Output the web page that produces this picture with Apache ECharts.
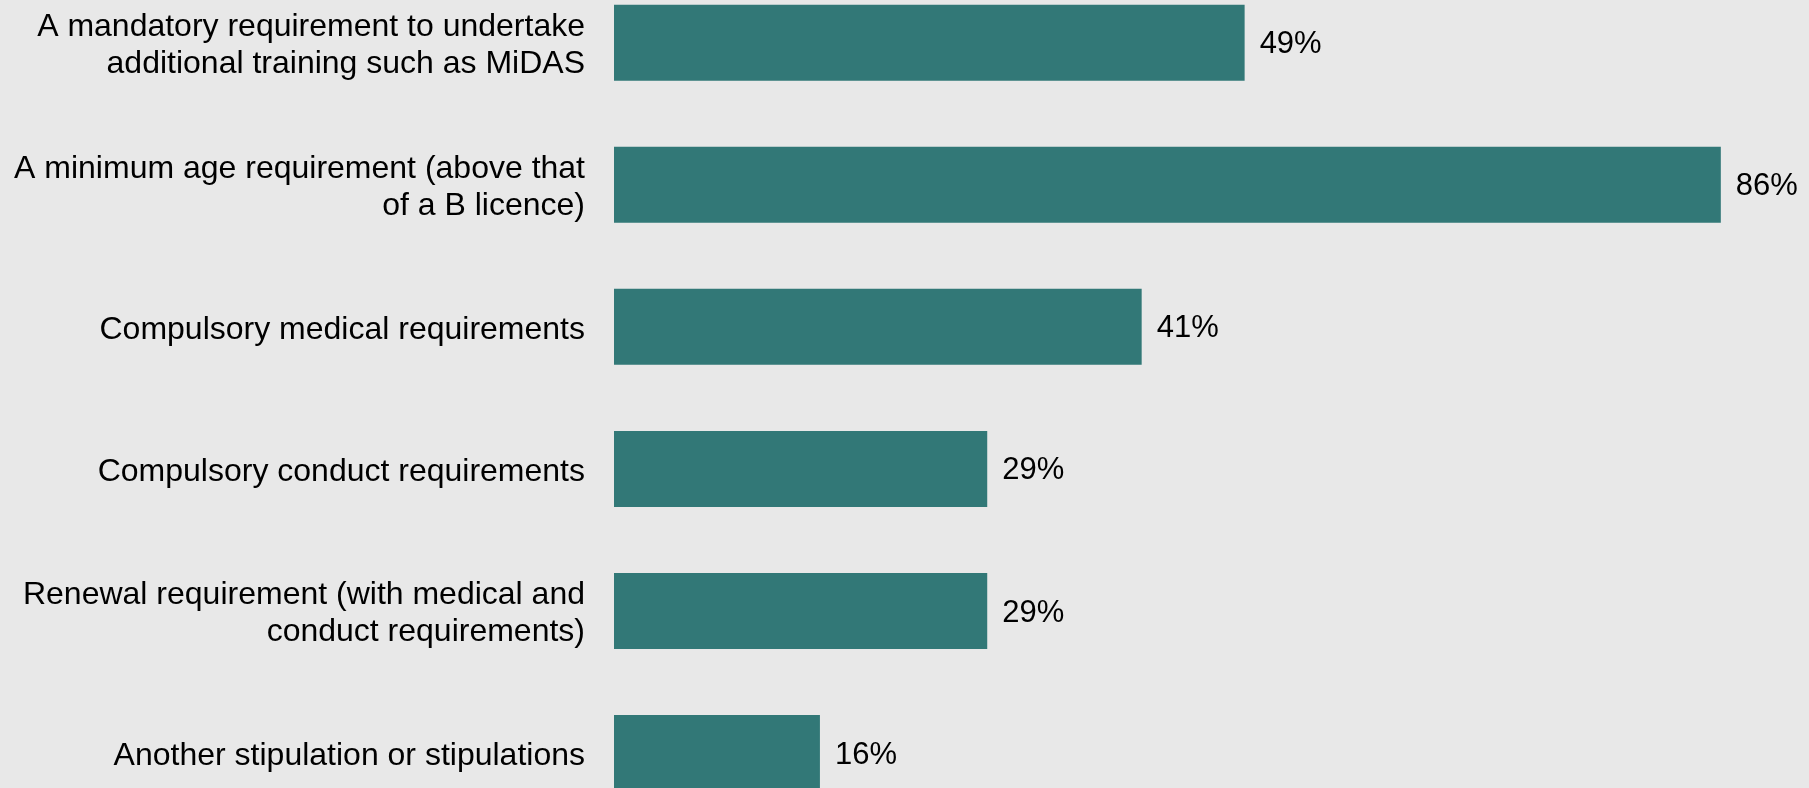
<!DOCTYPE html>
<html>
<head>
<meta charset="utf-8">
<style>
  html, body { margin: 0; padding: 0; background: #e8e8e8; }
  #chart { width: 1809px; height: 788px; }
</style>
<script src="https://cdn.jsdelivr.net/npm/echarts@6/dist/echarts.min.js"></script>
</head>
<body>
<div id="chart"></div>
<script>
// Requirement categories, top to bottom
const categories = [
  'A mandatory requirement to undertake\nadditional training such as MiDAS',
  'A minimum age requirement (above that\nof a B licence)',
  'Compulsory medical requirements',
  'Compulsory conduct requirements',
  'Renewal requirement (with medical and\nconduct requirements)',
  'Another stipulation or stipulations'
];
// Share of respondents (%)
const shares = [49, 86, 41, 29, 29, 16];

const chart = echarts.init(document.getElementById('chart'), null, { renderer: 'canvas' });

const FONT = '"Liberation Sans", Arial, sans-serif';
const LABEL_DROP = 3; // category text sits a little below the bar centre

chart.setOption({
  backgroundColor: '#e8e8e8',
  animation: false,
  grid: [
    // bars
    { left: 614, right: 36.7, top: -28.3, bottom: -36.1, containLabel: false, outerBoundsMode: 'none' },
    // category labels
    { left: 614, right: 36.7, top: -28.3 + LABEL_DROP, bottom: -36.1 - LABEL_DROP, containLabel: false, outerBoundsMode: 'none' }
  ],
  xAxis: [
    { type: 'value', gridIndex: 0, min: 0, max: 90, show: false },
    { type: 'value', gridIndex: 1, min: 0, max: 90, show: false }
  ],
  yAxis: [
    {
      type: 'category', gridIndex: 0, data: categories, inverse: true,
      axisLine: { show: false }, axisTick: { show: false },
      splitLine: { show: false }, axisLabel: { show: false }
    },
    {
      type: 'category', gridIndex: 1, data: categories, inverse: true,
      axisLine: { show: false }, axisTick: { show: false }, splitLine: { show: false },
      axisLabel: {
        margin: 29,
        color: '#000000',
        fontFamily: FONT,
        fontSize: 32,
        lineHeight: 37,
        align: 'right'
      }
    }
  ],
  series: [{
    type: 'bar',
    xAxisIndex: 0,
    yAxisIndex: 0,
    data: shares,
    barWidth: 76,
    itemStyle: { color: '#327877' },
    label: {
      show: true,
      position: 'right',
      distance: 15,
      offset: [0, 2],
      color: '#000000',
      fontFamily: FONT,
      fontSize: 31,
      formatter: p => p.value + '%'
    }
  }]
});
</script>
</body>
</html>
